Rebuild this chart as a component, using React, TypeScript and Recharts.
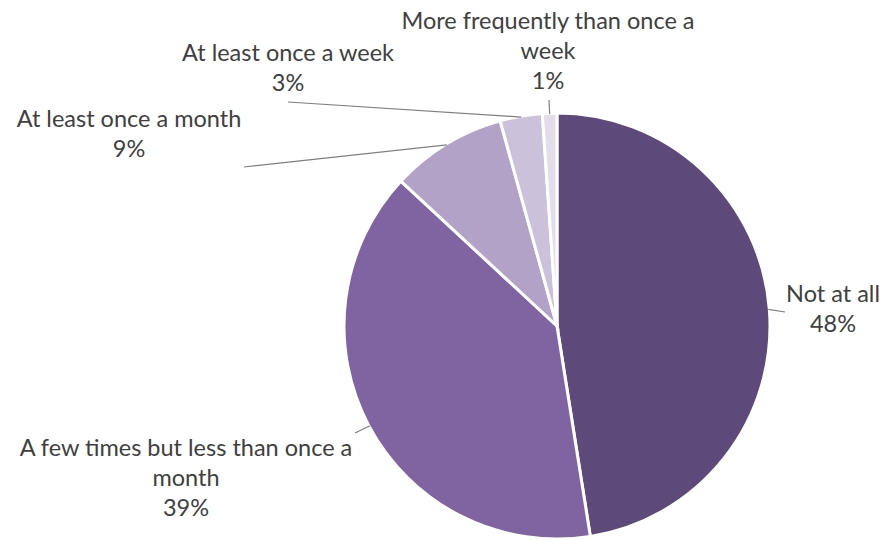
import { PieChart, Pie, Cell } from 'recharts';

// categories and shares (%) in drawing order, clockwise from 12 o'clock
const categories = [
  'Not at all',
  'A few times but less than once a month',
  'At least once a month',
  'At least once a week',
  'More frequently than once a week',
];
const shares = [47.5, 39.4, 8.8, 3.2, 1.1];
const colors = ['#5E4A7A', '#8064A2', '#B3A2C7', '#CCC1DA', '#E2DCEB'];

// label placement (Excel style manual positions): centre of first text line,
// where the leader line ends near the label, and wrap width in characters
const labelLayout = [
  { x: 833, y: 293, lineX: 785, lineY: 312, wrap: 40 },
  { x: 186, y: 447, lineX: 355, lineY: 433, wrap: 32 },
  { x: 129, y: 118, lineX: 244, lineY: 167, wrap: 40 },
  { x: 288, y: 52, lineX: 288, lineY: 102, wrap: 40 },
  { x: 548, y: 20, lineX: 549, lineY: 100, wrap: 28 },
];

const data = categories.map((name, i) => ({ name, value: shares[i] }));

const RAD = Math.PI / 180;
const LINE_HEIGHT = 30;

function wrapText(text: string, max: number) {
  const words = text.split(' ');
  const lines: string[] = [];
  let cur = '';
  words.forEach((w) => {
    const next = cur ? cur + ' ' + w : w;
    if (next.length > max && cur) {
      lines.push(cur);
      cur = w;
    } else {
      cur = next;
    }
  });
  if (cur) lines.push(cur);
  return lines;
}

const renderLabel = (props: any) => {
  const { cx, cy, midAngle, outerRadius, index, name, value } = props;
  const layout = labelLayout[index];
  const ex = cx + (outerRadius - 1) * Math.cos(-midAngle * RAD);
  const ey = cy + (outerRadius - 1) * Math.sin(-midAngle * RAD);
  const lines = [...wrapText(name, layout.wrap), `${Math.round(value)}%`];
  return (
    <g key={`lbl-${index}`}>
      <line x1={layout.lineX} y1={layout.lineY} x2={ex} y2={ey} stroke="#7F7F7F" strokeWidth={1.2} />
      <text
        x={layout.x}
        y={layout.y}
        textAnchor="middle"
        fill="#404040"
        fontSize={23.5}
        fontFamily="Lato, 'Open Sans', sans-serif"
      >
        {lines.map((l, k) => (
          <tspan key={k} x={layout.x} y={layout.y + k * LINE_HEIGHT} dominantBaseline="central">
            {l}
          </tspan>
        ))}
      </text>
    </g>
  );
};

export default function App() {
  return (
    <div style={{ width: 883, height: 540, background: '#fff' }}>
      <style>{'body{margin:0}'}</style>
      <PieChart width={883} height={540} margin={{ top: 0, right: 0, bottom: 0, left: 0 }}>
        <Pie
          data={data}
          dataKey="value"
          nameKey="name"
          cx={557}
          cy={326}
          outerRadius={213}
          startAngle={90}
          endAngle={-270}
          stroke="#FFFFFF"
          strokeWidth={3}
          label={renderLabel}
          labelLine={false}
          isAnimationActive={false}
        >
          {data.map((d, i) => (
            <Cell key={d.name} fill={colors[i]} />
          ))}
        </Pie>
      </PieChart>
    </div>
  );
}
